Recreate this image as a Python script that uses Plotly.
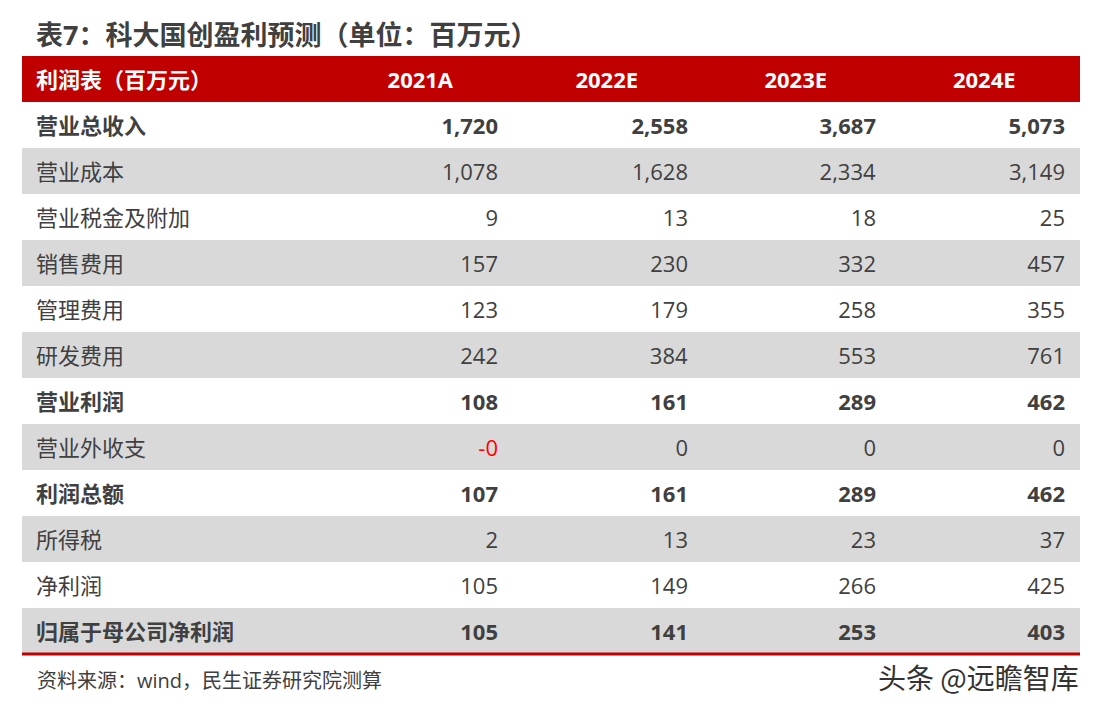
import math
import plotly.graph_objects as go

# page body has an 8px margin; the figure is sized so that it fits the 1101x709 window
OFF = 8
W, H = 1101 - OFF, 709 - OFF


def px(x):
    return (x - OFF) / W


def py(y):
    return 1 - (y - OFF) / H


title = "表7：科大国创盈利预测（单位：百万元）"
source = "资料来源：wind，民生证券研究院测算"
watermark = "头条 @远瞻智库"

header_label = "利润表（百万元）"
years = ["2021A", "2022E", "2023E", "2024E"]

items = ["营业总收入", "营业成本", "营业税金及附加", "销售费用", "管理费用", "研发费用",
         "营业利润", "营业外收支", "利润总额", "所得税", "净利润", "归属于母公司净利润"]
bold_items = {"营业总收入", "营业利润", "利润总额", "归属于母公司净利润"}

v2021 = [1720, 1078, 9, 157, 123, 242, 108, -0.0, 107, 2, 105, 105]
v2022 = [2558, 1628, 13, 230, 179, 384, 161, 0, 161, 13, 149, 141]
v2023 = [3687, 2334, 18, 332, 258, 553, 289, 0, 289, 23, 266, 253]
v2024 = [5073, 3149, 25, 457, 355, 761, 462, 0, 462, 37, 425, 403]

RED = "#C00000"
GRAY = "#D9D9D9"
TXT = "#404040"
FONT = "Open Sans, Noto Sans CJK SC"


def wrap(s, item):
    return f"<b>{s}</b>" if item in bold_items else f"<span>{s}</span>"


def color(v):
    return "#FF0000" if math.copysign(1, v) < 0 else TXT


label_col = [wrap(it, it) for it in items]
value_cols = [[wrap(f"{v:,.0f}", it) for v, it in zip(vals, items)]
              for vals in (v2021, v2022, v2023, v2024)]
color_cols = [[color(v) for v in vals] for vals in (v2021, v2022, v2023, v2024)]

n = len(items)
row_fill = [GRAY if i % 2 == 1 else "white" for i in range(n)]
empty = [""] * n

cells_values = [empty, label_col] + value_cols + [empty]
cells_colors = [[TXT] * n, [TXT] * n] + color_cols + [[TXT] * n]

header_values = ["", f"<b>{header_label}</b>"] + [f"<b>\u00a0\u00a0{y}</b>" for y in years] + [""]

x0, x1 = 22, 1080
top = 56
ROWH = 46

fig = go.Figure(go.Table(
    domain=dict(x=[px(x0), px(x1)], y=[0, py(top)]),
    columnwidth=[6, 296, 182, 190, 188, 189, 7],
    header=dict(
        values=header_values,
        fill_color=RED,
        line=dict(color=RED, width=0),
        align=["left", "left", "center", "center", "center", "center", "left"],
        font=dict(family=FONT, size=22, color="white"),
        height=ROWH,
    ),
    cells=dict(
        values=cells_values,
        fill_color=[row_fill] * 7,
        line=dict(color="rgba(0,0,0,0)", width=0),
        align=["left", "left", "right", "right", "right", "right", "left"],
        font=dict(family=FONT, size=22, color=cells_colors),
        height=ROWH,
    ),
))

bottom = top + ROWH * (n + 1)
fig.add_shape(type="line", xref="paper", yref="paper",
              x0=px(x0), x1=px(x1), y0=py(bottom), y1=py(bottom),
              line=dict(color=RED, width=3))

fig.add_annotation(text=f"<b>{title}</b>", xref="paper", yref="paper",
                   x=px(34), y=py(35), xanchor="left", yanchor="middle",
                   showarrow=False, font=dict(family=FONT, size=27, color=TXT))
fig.add_annotation(text=source, xref="paper", yref="paper",
                   x=px(35), y=py(680), xanchor="left", yanchor="middle",
                   showarrow=False, font=dict(family=FONT, size=20, color=TXT))
fig.add_annotation(text=watermark, xref="paper", yref="paper",
                   x=px(1081), y=py(677), xanchor="right", yanchor="middle",
                   showarrow=False, font=dict(family="Noto Sans CJK SC", size=28, color="#333333"))

fig.update_layout(width=W, height=H, margin=dict(l=0, r=0, t=0, b=0),
                  paper_bgcolor="white", plot_bgcolor="white")

fig.write_html("out.html")
